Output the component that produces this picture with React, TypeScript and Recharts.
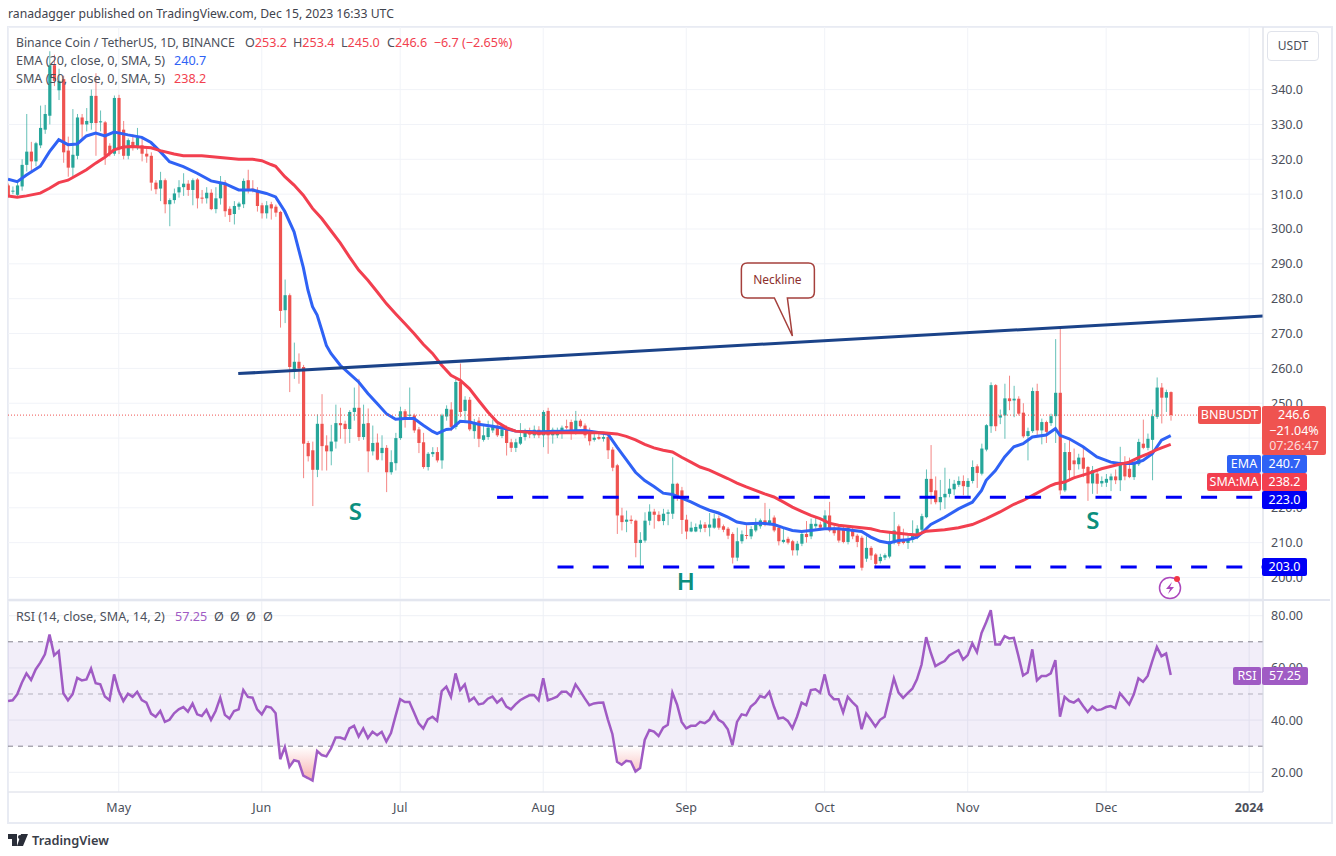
import {
  Area,
  Bar,
  CartesianGrid,
  ComposedChart,
  Line,
  ReferenceArea,
  ReferenceDot,
  ReferenceLine,
  XAxis,
  YAxis,
} from 'recharts';

// one candle per day, day 0 = Apr 7 2023, day 252 = Dec 15 2023
const opens = [
  312.5,310.8,309.8,312.2,318.4,322.2,319.4,324,328.5,332.5,
  347,339.8,343,322.5,317.6,321,332,330,330.4,338.2,
  330.6,330.6,323.9,321.6,337.6,328.5,321,325,323.2,324,
  321.6,321,313.3,311.6,314,307.1,308.3,310.5,312,313,
  311.2,314.2,309,308.8,310.4,305.7,308.8,313.3,305.8,304.3,
  306.4,307.1,314,311.6,311.2,306.8,304.5,307.1,306.4,304.9,
  276.7,281,259,261.9,260.4,238.6,236.5,230.9,244.1,237.9,
  236.2,239,244.3,244.1,242.6,247.5,248.7,240.3,244.3,236.2,
  238.7,235.7,237.2,230.2,232.8,240,247.7,246.4,246.5,242.5,
  238.8,231.7,235.4,236,233.6,246.2,248.2,243.2,256.1,247.8,
  251,242,245,239.5,240.3,242.2,243.6,240.6,242.4,238.8,
  237.2,238.4,240.3,242,240.8,242.4,240.8,247.8,240.8,240.8,
  241.3,243.4,244.6,241.7,245,243.6,242,239.5,240.3,239.8,
  240.3,236.7,232.2,217.8,216,216.6,216.3,209.9,210.6,216.3,
  218.9,218,216.2,218.3,218.3,226.9,225,216.6,213.2,213.2,
  214,215.2,214.3,214.3,217,214.7,214,212.5,205.7,210.4,
  212.2,211.8,213.5,214.7,216.4,215.6,217.2,214.3,210.2,211.1,
  210.4,207.8,209.7,212.5,211.8,214.7,215.2,214.3,217.8,214.3,
  214.3,214,210.2,213.5,212,211.4,205.4,208.5,206.6,204.7,
  205.7,206,210.2,214.7,211,209.9,210.8,211.6,213.7,217.3,
  228.3,225,221.6,223,224,225.3,226.6,227.7,226,227.7,
  231.9,229.8,236.7,243.4,255.2,245.9,246.5,251.4,250.8,251.3,
  247.3,240.6,242,253.5,242.2,244.6,244.3,246.3,253,225,
  236,233.6,232.5,234.4,231.7,227,229.8,227,227.2,227.9,
  229,227.9,233.1,231.2,228.8,232.5,238.4,237.2,239.5,246.1,
  254.5,251.6,253.2,
];
const highs = [
  313,312.2,313.5,320,333,325,325,335.4,335.6,351,
  350,346,344,326.5,334.4,333,333,334.7,340,344.7,
  334,331,324.6,338.3,338.5,331,326,327.2,329,326,
  323,322,314,316.4,314.5,308.8,311.6,314,316,314,
  314.5,314.6,311.2,312,311.4,312,315.2,314,306.5,308,
  307.8,314.5,317,314,312,307.5,308,307.8,307,305.2,
  285.5,281.5,267.4,264.3,261,239.2,239,246.8,252.6,240.8,
  243.8,249.6,248.7,245,248,254.5,257,249.6,248.5,243.6,
  241.3,240.8,238,236.5,241.5,249,248.3,254.5,247,243.2,
  241.5,236,237.4,237.4,247,249.4,250.3,257.4,261.4,252,
  251.8,245.5,246,243.6,245,245.3,244.6,243.6,243.6,239.8,
  239.8,244.3,242.7,243,243.6,243.4,248,248.7,243,243,
  243.6,245.3,245.3,247.8,245.5,244.2,243,241.5,241.2,241.5,
  241.7,237.4,232.6,220,219.2,217.8,216.6,213,218.7,221,
  219.7,219,219.7,219.5,234.5,227.2,226,218,216,215.5,
  216.4,215.9,218.5,218.3,217.8,215.2,214.5,213,214.3,213.5,
  215,214.7,217,216.9,221.4,219.7,217.8,215,214.3,211.7,
  210.8,210.5,213.5,216.2,216.9,217.6,216,219.3,221.7,215,
  215,214.5,215,214.3,212.5,212,211.8,209,207,206.8,
  206.9,213,218.8,215.2,214,212,216.4,215,218.3,231,
  238,229,228,231.5,228.3,228,229,229.3,228.5,233.6,
  232.5,238.4,244,256,255.5,248.2,255.6,257.9,255,252,
  250,243,254.5,255.6,245.6,245,247,268.4,271.7,238.6,
  239.4,237,235.5,237.5,232,232,231,229,229.7,229.8,
  231,237.5,234.8,234.4,234,239.8,245.3,241.3,248.2,257.4,
  255.8,253.9,253.4,
];
const lows = [
  309,310,309.5,311,316.5,316.5,318,323.2,327.3,330,
  341,337,319,315,315,320,326,328,328.5,321,
  328,318.4,320.8,321,321.5,320,320,322.5,322.7,319.4,
  319,311,310,308,304.5,300.8,307.3,309,309.5,309.5,
  306.8,305.9,307.3,307.3,305.4,304.5,307,303.5,302,301.3,
  305.5,306,310.2,310.5,305,303,303,302.7,303.5,271.7,
  273,253.2,257,255.6,228.5,233.3,220.5,228.8,230.7,230.7,
  232.2,237,239.8,238.4,238.6,245,239.2,239.5,230.2,235,
  233.6,233.6,224.5,229.5,230.7,239.5,243,245.5,241.5,235.7,
  231.2,230.7,234.6,233,231.2,245,242,242.5,246,245,
  242,239.8,237.4,239,239.5,241.5,240.3,240,235,236,
  236,238,239.3,240,240,240,237.4,235.5,238.4,240,
  239.8,242.5,239.5,241,243,240,237.9,239,239.5,239,
  234,230.5,212.5,213.5,213,215.4,205.8,203,210,215,
  214,216,215,215,216.8,222,212.5,211,213,213,
  213,213,211.8,214,213.7,213,211,204,204.7,209.7,
  211,211,213,214,214.7,215,213,209.2,209.8,209.5,
  206.3,206.3,209,210,211,214,213.5,213.7,213,212,
  210,209.8,209.5,211,208.7,202,204.5,205,202.8,204,
  205,205.5,209.5,209,209.5,208.2,210,211,212.5,217,
  221,221,219.3,219.7,223,223.6,226,223.6,223,227,
  225.7,229.3,236.2,241.5,242,244,239.8,248,246,246.5,
  240,233.6,241.5,240.5,238.2,238.6,243.5,238.6,223.8,224.5,
  227.9,229,231,228.8,222,224,224,226,226,224.8,
  226.8,224.8,227.9,228.5,228,232,236.8,236.5,227.9,245.5,
  244.2,247.5,245,
];
const closes = [
  309.5,311,312.5,318.4,322.2,319.4,324.6,329,333,347,
  342.5,342.5,322,317.6,321.3,332,330,331,338.2,330.4,
  330.9,321,321.6,337.6,322.9,321,325.5,323.7,326.3,321.6,
  320.8,313.3,311.4,314,307.1,308.3,310.2,312,313,311.2,
  314,308.8,308.7,310.4,305.7,308.8,313.3,305.1,304,306.6,
  307.3,313.8,311.4,311.2,306.6,304.5,306.8,305.9,304.7,276.5,
  281,260.4,261.9,260,238.4,234.8,230.9,244.1,237.7,236.2,
  239,244.3,243.7,242.6,247.5,248.7,240.3,244.1,236.2,238.6,
  233.8,237.2,230.2,233.1,240,247.7,246,246.7,242.2,238.6,
  231.7,235.5,236,233.6,246.5,248.4,243.2,256.1,247.5,251,
  242.5,244.6,239.8,240.8,243,243.6,240.8,242.5,238.6,237.2,
  238.8,240.3,242,241,242.4,240.8,247.5,240.8,242.4,241.7,
  243,243,241.2,245,243.4,240.8,239.1,240.1,239.8,240.3,
  236.5,231.5,217.8,215.9,216.6,216.2,209.9,210.8,216.3,218.9,
  218,216.2,218.3,218.7,226.9,223,216.5,213.2,214.3,214.5,
  215.2,214.2,215.2,216.9,214.3,213.7,212,205.7,210.4,212.4,
  212,213.9,215.2,216.4,215.2,216.4,213.5,210.4,210.8,210,
  207.8,209.7,212.5,211.6,215.4,215.4,214.3,217.8,213.5,212.7,
  210.6,210.2,214.3,211.8,210.2,202.8,208.5,206.3,203.9,205.9,
  206.4,210.4,213.5,209.7,209.9,211,212.5,214,217.6,228.3,
  224.5,221.6,223.1,224,225.5,226.9,227.7,226.2,227.7,231.7,
  230,237,243.7,255.2,243.4,246.5,251.4,250.6,251.3,247,
  240.5,242,253.5,242.2,244.6,241.8,246.3,253,225,236,
  230.8,232.5,234.4,231.2,227,230.8,226.9,227.7,228.3,229,
  227.9,233.1,229,228.8,232.7,238.9,237.2,239.8,246.3,254.5,
  251.6,253.2,246.6,
];

// moving averages at the days listed
const emaDays = [
  0,2,4,7,9,11,13,15,17,19,21,23,26,29,31,33,35,38,41,44,47,50,53,56,58,60,62,64,65,66,67,68,69,70,72,74,76,78,80,82,84,86,88,90,92,93,95,96,98,100,102,
  105,108,110,115,120,125,130,132,134,136,138,140,142,144,146,148,150,152,154,156,158,160,163,166,168,170,172,174,177,180,182,185,187,189,191,193,195,
  197,198,200,203,206,209,211,212,214,216,218,220,222,225,227,228,230,233,236,239,241,244,246,248,250,252,
];
const emaValues = [
  314.3,313.6,315.5,318,322.2,325.6,324.2,324.4,326.7,327.5,326.7,327.8,327,326.3,324.8,322.2,319.3,317.9,316,313.8,313,311.2,311.2,310.2,309.2,305,299.2,289,282.5,277.7,275.3,271,266.6,264.3,260.9,258.5,256.1,252.8,249.9,247,245.4,245.6,245.6,243.7,241.9,241.3,242.5,242.6,244.8,244.6,244,
  243.4,242.7,242,241.8,242,242.2,241.2,237.4,233.8,230.2,227.8,226.1,224.2,223.8,222.8,221.7,220.4,219.3,218.5,217.3,215.9,215.4,215.6,215.2,214.3,213.5,213.2,213.5,214,214,213.7,213.2,211.6,210.4,209.9,210.6,210.8,
  211.6,212.7,215.2,217.3,219.7,221.6,225,227.9,230.7,234.6,237.5,238.4,240.3,240.9,242.7,240.8,239.8,237.5,234.6,233.1,232.7,232.7,233.6,235.5,239.4,240.7,
];
const smaDays = [
  0,2,4,7,9,11,13,15,17,19,21,23,25,27,31,33,36,38,42,46,50,53,55,57,58,60,62,64,66,68,70,72,74,76,78,80,82,84,86,88,90,92,94,96,98,100,102,
  104,106,108,110,115,120,125,129,132,134,136,138,140,142,144,146,148,150,152,154,156,158,160,162,164,166,168,170,172,174,176,178,180,182,185,187,189,191,193,195,
  197,199,203,206,209,212,215,218,220,223,226,227,229,231,234,237,240,243,245,247,249,252,
];
const smaValues = [
  309.5,309.1,309.5,310.3,311.7,313.3,314,315.5,317,318.9,320.6,322.7,323.5,323.7,323.3,322.5,321.5,321,321,320.5,320,320,319.6,318.5,318,315,312.6,309.7,305.9,303,299.5,296,292,288.2,285.3,282,278.6,275.7,272.9,270,266.9,264.3,260.9,258,256.6,254.2,250.8,
  247.5,244.6,243,242,241.4,241.5,241.5,241.5,241.2,240.5,239.5,238.2,237.2,236.5,236,234.5,233.1,231.7,230.8,229.6,228.4,227.1,226,225,224,223.1,221.7,220.2,219,217.8,216.9,215.6,215,214.7,214.3,214,213.3,213,212.7,212.4,
  212.2,213.3,213.7,214.3,215.2,216.9,218.8,221,222.1,224.2,226.4,226.9,227.4,228.6,229.8,231.2,232.2,233.1,234.4,235.5,236.7,238.2,
];
const rsiValues = [
  47.3,47.6,49.9,54.3,57.9,55.4,59.4,62,65.2,72.8,
  64.8,66.4,50.3,47.6,49.9,56.2,55.2,55.6,59.7,54.1,
  53.7,49,47.6,57.5,51.1,47.3,50.1,48.9,50.8,47.7,
  46.7,42.5,41.3,43.5,39.3,40.1,42.6,44.1,45,43.2,
  46.3,42.2,41.6,43.9,40.1,43.5,48.6,42,40.6,43.5,
  44.1,51.5,48.9,48.6,44.1,42.2,45.2,44.8,42.6,25,
  29.7,22.1,24.6,24.1,18.7,17.8,16.8,28.2,26.6,26.1,
  29.1,33.3,33.3,32.7,36.8,37.8,33.7,36.8,33.1,35.5,
  34.2,35.5,31.8,35,41.6,48,46.9,46.9,42.9,38.8,
  36.8,40.3,41.3,39.7,51.1,52.8,48.9,57.9,51.5,53.7,
  47.3,48.6,46,46.4,48.2,49,46.7,48.2,45.2,44.1,
  46,47.6,48.6,49.5,49.6,47.6,56,47.6,48.2,49,
  50.9,50.9,49.2,53.7,51.1,48.3,45.7,46.4,46.6,46.7,
  40.3,34.6,24,22.9,24.4,24.1,20.3,21.6,32.4,36.2,
  35.6,33.9,37.1,38.2,50.5,46,39.3,36.8,37.8,37.8,
  39.3,38.8,40.1,43.1,40.1,39,36.5,30.4,39.3,42.2,
  41.8,45.2,46.7,49.2,48.6,50.8,45.2,40.6,41,39.7,
  36.9,41.3,46.7,45.7,51.5,51.8,50.5,57.5,49.9,48,
  48,42.9,48.9,46.9,45.2,36.5,42.5,40.1,37.5,40.1,
  41.3,48.6,56,50.5,48.5,50.3,52,55.6,61.3,71.8,
  65.8,60.7,61.7,62.6,64.8,65.8,66.8,63.2,64.9,69.4,
  66,73.4,77.5,82.1,69,69,72.2,71.3,71.5,64.5,
  57.1,58.2,67.1,55.2,56.9,56.9,57.9,63,41.3,48.9,
  47.3,46.7,48,45.4,43.1,45.2,43.8,44.1,45,45.4,
  44.6,50.3,48.2,46,49.9,56,54.7,56.9,62.6,68,
  64.5,65.5,57.25,
];

const priceTicks = [200, 210, 220, 230, 240, 250, 260, 270, 280, 290, 300, 310, 320, 330, 340];
const rsiTicks = [20, 40, 60, 80];
const rsiBands = [70, 50, 30];
const timeTickDays = [24, 55, 85, 116, 147, 177, 208, 238, 269];
const timeTickLabels = ['May', 'Jun', 'Jul', 'Aug', 'Sep', 'Oct', 'Nov', 'Dec', '2024'];
const patternLabels = ['S', 'H', 'S'];
const patternDays = [75.3, 146.9, 235.1];
const patternPrices = [219.1, 199, 216.5];
const rsiNaLefts = [214, 230, 246, 263];

const GREEN = '#26a69a';
const RED = '#ef5350';
const BLUE = '#2f62f5';
const SMA_RED = '#f23f4f';
const PURPLE = '#a05bc4';
const TEXT = '#4c505b';
const FONT = '"Noto Sans", sans-serif';

const emaByDay = new Map(emaDays.map((d, i) => [d, emaValues[i]]));
const smaByDay = new Map(smaDays.map((d, i) => [d, smaValues[i]]));

const rows = opens.map((open, day) => ({
  day,
  open,
  close: closes[day],
  high: highs[day],
  low: lows[day],
  range: [lows[day], highs[day]],
  ema: emaByDay.get(day) ?? null,
  sma: smaByDay.get(day) ?? null,
}));

const rsiRows = rsiValues.map((rsi, day) => ({
  day,
  rsi,
  oversold: rsi < 30 ? rsi : null,
  overbought: rsi > 70 ? rsi : null,
}));

// wick and body are both placed from the bar the library computed for low..high
function Candle(props: any) {
  const { x, y, width, height, payload } = props;
  const { open, close, high, low } = payload;
  const color = close >= open ? GREEN : RED;
  const perUnit = height / (high - low);
  const top = y + (high - Math.max(open, close)) * perUnit;
  const bodyH = Math.max(Math.abs(open - close) * perUnit, 1);
  const mid = x + width / 2;
  return (
    <g>
      <line x1={mid} x2={mid} y1={y} y2={y + height} stroke={color} strokeOpacity={0.7} strokeWidth={1} />
      <rect x={x} y={top} width={width} height={bodyH} fill={color} />
    </g>
  );
}

function NecklineCallout(props: any) {
  const { cx, cy } = props;
  const box = `M${cx - 45} ${cy - 73} H${cx + 16} Q${cx + 22} ${cy - 73} ${cx + 22} ${cy - 67} V${cy - 44} Q${cx + 22} ${cy - 38} ${cx + 16} ${cy - 38}
    H${cx - 5} L${cx} ${cy} L${cx - 18} ${cy - 38} H${cx - 45} Q${cx - 51} ${cy - 38} ${cx - 51} ${cy - 44} V${cy - 67} Q${cx - 51} ${cy - 73} ${cx - 45} ${cy - 73} Z`;
  return (
    <g>
      <path d={box} fill="#fff" stroke="#a5403c" strokeWidth={1.5} />
      <text x={cx - 15} y={cy - 52} textAnchor="middle" fontFamily={FONT} fontSize={12} fill="#8c2f2c">
        Neckline
      </text>
    </g>
  );
}

function TimeTick(props: any) {
  const { x, y, payload } = props;
  const label = timeTickLabels[timeTickDays.indexOf(payload.value)];
  return (
    <text x={x} y={y + 18} textAnchor="middle" fontFamily={FONT} fontSize={12.5} fill={TEXT} fontWeight={label === '2024' ? 700 : 400}>
      {label}
    </text>
  );
}

function Label({ x, y, children, color = TEXT, size = 12.6 }: any) {
  return (
    <div style={{ position: 'absolute', left: x, top: y, color, fontSize: size, lineHeight: '16px', whiteSpace: 'pre' }}>
      {children}
    </div>
  );
}

function Tag({ x, y, w, h = 18, bg, children }: any) {
  return (
    <div
      style={{
        position: 'absolute', left: x, top: y, width: w, height: h, background: bg, color: '#fff', fontSize: 12.5,
        lineHeight: `${h}px`, textAlign: 'center', borderRadius: 2,
      }}
    >
      {children}
    </div>
  );
}

export default function App() {
  return (
    <div style={{ position: 'absolute', left: 0, top: 0, width: 1336, height: 856, background: '#fff', overflow: 'hidden', fontFamily: FONT }}>
      <svg width={1} height={1} style={{ position: 'absolute', left: 0, top: 0 }}>
        <defs>
          <linearGradient id="oversoldFill" x1="0" y1="0" x2="0" y2="1">
            <stop offset="0%" stopColor="#ef5350" stopOpacity={0} />
            <stop offset="100%" stopColor="#ef5350" stopOpacity={0.45} />
          </linearGradient>
          <linearGradient id="overboughtFill" x1="0" y1="0" x2="0" y2="1">
            <stop offset="0%" stopColor="#26a69a" stopOpacity={0.2} />
            <stop offset="100%" stopColor="#26a69a" stopOpacity={0} />
          </linearGradient>
        </defs>
      </svg>

      <Label x={8} y={6} color="#3f434d" size={12.2}>ranadagger published on TradingView.com, Dec 15, 2023 16:33 UTC</Label>

      <div style={{ position: 'absolute', left: 7, top: 26, width: 1322, height: 794, border: '2px solid #e8ebf3' }} />

      <div style={{ position: 'absolute', left: 8, top: 27 }}>
        <ComposedChart width={1322} height={572} data={rows} margin={{ top: 0, right: 0, bottom: 0, left: 0 }}>
          <CartesianGrid stroke="#f1f3f8" />
          <XAxis dataKey="day" type="number" domain={[0, 272]} ticks={timeTickDays} allowDataOverflow hide />
          <YAxis
            orientation="right"
            width={67}
            domain={[193.83, 357.96]}
            ticks={priceTicks}
            allowDataOverflow
            tickSize={0}
            tickMargin={8}
            tickFormatter={(v: number) => v.toFixed(1)}
            tick={{ fontSize: 12.5, fill: TEXT, fontFamily: FONT }}
            stroke="#d8dbe4"
          />
          <Bar dataKey="range" barSize={3.2} shape={Candle} isAnimationActive={false} />
          <Line dataKey="ema" stroke={BLUE} strokeWidth={3} dot={false} connectNulls isAnimationActive={false} />
          <Line dataKey="sma" stroke={SMA_RED} strokeWidth={3} dot={false} connectNulls isAnimationActive={false} />
          <ReferenceLine y={246.6} stroke={RED} strokeWidth={1} strokeDasharray="1 2" />
          <ReferenceLine segment={[{ x: 106, y: 223 }, { x: 272, y: 223 }]} stroke="#0000f5" strokeWidth={3} strokeDasharray="16 19.2" />
          <ReferenceLine segment={[{ x: 119.1, y: 203 }, { x: 272, y: 203 }]} stroke="#0000f5" strokeWidth={3} strokeDasharray="16 19.2" />
          <ReferenceLine segment={[{ x: 49.9, y: 258.5 }, { x: 272, y: 275 }]} stroke="#1b4389" strokeWidth={3} />
          <ReferenceDot x={170} y={269.3} r={0} shape={NecklineCallout} />
          {patternLabels.map((label, i) => (
            <ReferenceDot
              key={i}
              x={patternDays[i]}
              y={patternPrices[i]}
              r={0}
              shape={(p: any) => (
                <text x={p.cx} y={p.cy + 9} textAnchor="middle" fontFamily={FONT} fontSize={24} fontWeight={600} fill="#0b8f7e">
                  {label}
                </text>
              )}
            />
          ))}
        </ComposedChart>
      </div>

      <div style={{ position: 'absolute', left: 8, top: 601 }}>
        <ComposedChart width={1322} height={220} data={rsiRows} margin={{ top: 0, right: 0, bottom: 0, left: 0 }}>
          <CartesianGrid stroke="#eef0f5" />
          <XAxis
            dataKey="day"
            type="number"
            domain={[0, 272]}
            ticks={timeTickDays}
            allowDataOverflow
            height={29}
            tickSize={0}
            tick={TimeTick}
            stroke="#dfe2ea"
          />
          <YAxis
            orientation="right"
            width={67}
            domain={[12.45, 85.63]}
            ticks={rsiTicks}
            allowDataOverflow
            tickSize={0}
            tickMargin={8}
            tickFormatter={(v: number) => v.toFixed(2)}
            tick={{ fontSize: 12.5, fill: TEXT, fontFamily: FONT }}
            stroke="#d8dbe4"
          />
          <ReferenceArea y1={30} y2={70} fill="#7e57c2" fillOpacity={0.1} stroke="none" />
          {rsiBands.map((b) => (
            <ReferenceLine key={b} y={b} stroke={b === 50 ? '#b4b2bd' : '#85828f'} strokeWidth={1} strokeDasharray="5 5" />
          ))}
          <Area dataKey="oversold" baseValue={30} stroke="none" fill="url(#oversoldFill)" fillOpacity={1} isAnimationActive={false} />
          <Area dataKey="overbought" baseValue={70} stroke="none" fill="url(#overboughtFill)" fillOpacity={1} isAnimationActive={false} />
          <Line dataKey="rsi" stroke={PURPLE} strokeWidth={2.5} dot={false} isAnimationActive={false} />
        </ComposedChart>
      </div>

      <div style={{ position: 'absolute', left: 8, top: 599, width: 1322, height: 2, background: '#e3e6ef' }} />

      <Label x={16} y={35} size={12.2}>Binance Coin / TetherUS, 1D, BINANCE</Label>
      <Label x={245} y={35}>O<span style={{ color: SMA_RED }}>253.2</span></Label>
      <Label x={293} y={35}>H<span style={{ color: SMA_RED }}>253.4</span></Label>
      <Label x={341} y={35}>L<span style={{ color: SMA_RED }}>245.0</span></Label>
      <Label x={387} y={35}>C<span style={{ color: SMA_RED }}>246.6  −6.7 (−2.65%)</span></Label>
      <Label x={16} y={53}>EMA (20, close, 0, SMA, 5)</Label>
      <Label x={174} y={53} color={BLUE}>240.7</Label>
      <Label x={16} y={71}>SMA (50, close, 0, SMA, 5)</Label>
      <Label x={174} y={71} color={SMA_RED}>238.2</Label>
      <Label x={16} y={609}>RSI (14, close, SMA, 14, 2)</Label>
      <Label x={175} y={609} color={PURPLE}>57.25</Label>
      {rsiNaLefts.map((left) => (
        <Label key={left} x={left} y={609}>Ø</Label>
      ))}

      <div style={{ position: 'absolute', left: 1267, top: 31, width: 50, height: 28, border: '1px solid #e0e3eb', borderRadius: 4, textAlign: 'center', lineHeight: '28px', fontSize: 12, color: TEXT }}>
        USDT
      </div>

      <Tag x={1198} y={406} w={63} bg={RED}>BNBUSDT</Tag>
      <div style={{ position: 'absolute', left: 1262, top: 406, width: 64, height: 49, background: RED, color: '#fff', fontSize: 12.5, lineHeight: '15.5px', textAlign: 'center', borderRadius: 2 }}>
        <div style={{ paddingTop: 1 }}>246.6</div>
        <div>−21.04%</div>
        <div style={{ color: '#fbdcdb' }}>07:26:47</div>
      </div>
      <Tag x={1227} y={455} w={34} bg={BLUE}>EMA</Tag>
      <Tag x={1262} y={455} w={45} bg={BLUE}>240.7</Tag>
      <Tag x={1207} y={473} w={54} bg={SMA_RED}>SMA:MA</Tag>
      <Tag x={1262} y={473} w={45} bg={SMA_RED}>238.2</Tag>
      <Tag x={1262} y={491} w={45} bg="#0000f5">223.0</Tag>
      <Tag x={1262} y={558} w={45} bg="#0000f5">203.0</Tag>
      <Tag x={1233} y={667} w={28} bg={PURPLE}>RSI</Tag>
      <Tag x={1262} y={667} w={46} bg={PURPLE}>57.25</Tag>

      <svg style={{ position: 'absolute', left: 1156, top: 574 }} width={28} height={28}>
        <circle cx={14} cy={14} r={10.5} fill="none" stroke="#ab47bc" strokeWidth={1.5} />
        <path d="M16 8 L10 15 H14 L12 20 L18 13 H14 Z" fill="#ab47bc" />
        <circle cx={21} cy={5} r={3} fill="#f23645" />
      </svg>

      <svg style={{ position: 'absolute', left: 8, top: 834 }} width={22} height={14}>
        <path d="M0 0 H9 V12 H4 V5 H0 Z M15 12 L20 0 H13 L9 12 Z" fill="#2a2e39" />
        <circle cx={12} cy={3} r={2} fill="#2a2e39" />
      </svg>
      <div style={{ position: 'absolute', left: 32, top: 831, fontSize: 12.8, fontWeight: 600, color: '#3a3e49', lineHeight: '18px' }}>TradingView</div>
    </div>
  );
}
